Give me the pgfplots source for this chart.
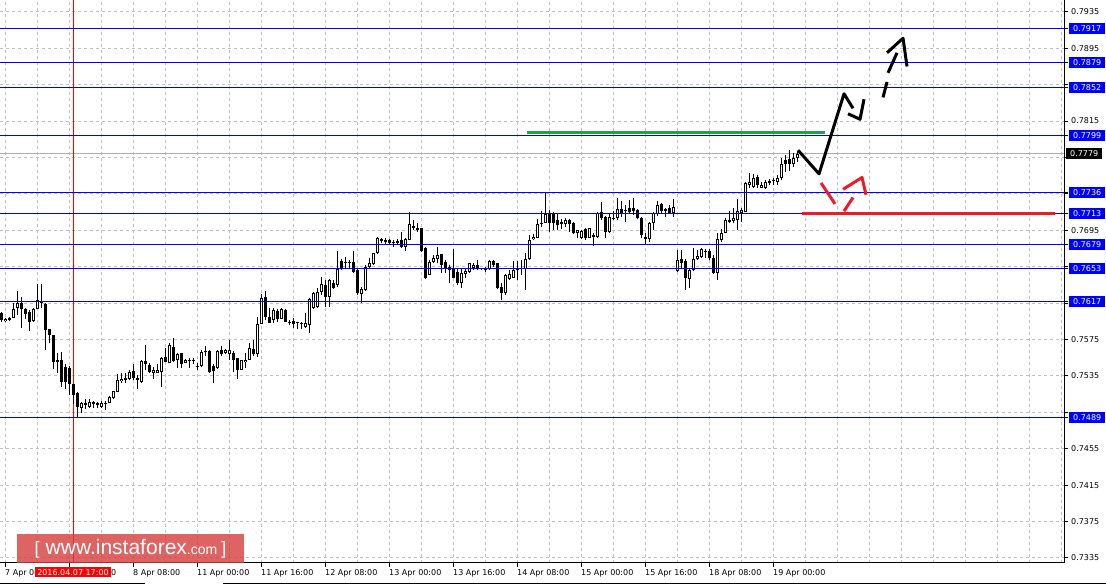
\documentclass[border=0pt]{standalone}
\usepackage{pgfplots}
\pgfplotsset{compat=1.18}
\usepackage{pgfplotstable}
\usepackage{fontspec}
\setmainfont{DejaVu Sans}
\newfontfamily\wmfont{Liberation Sans}
\definecolor{gridgray}{RGB}{192,192,192}
\definecolor{lvlblue}{RGB}{0,0,255}
\definecolor{mtred}{RGB}{237,28,36}
\definecolor{mtgreen}{RGB}{34,160,80}
\definecolor{wmred}{RGB}{214,60,60}
\definecolor{curgray}{RGB}{176,176,176}

% H1 candles: index, open, high, low, close
\pgfplotstableread{
x o h l c
0 0.7604 0.7605 0.7594 0.7596
1 0.7595 0.7599 0.7594 0.7598
2 0.7597 0.7600 0.7595 0.7599
3 0.7599 0.7615 0.7599 0.7609
4 0.7610 0.7628 0.7602 0.7615
5 0.7615 0.7622 0.7588 0.7608
6 0.7608 0.7610 0.7598 0.7603
7 0.7605 0.7607 0.7584 0.7594
8 0.7595 0.7610 0.7594 0.7609
9 0.7609 0.7636 0.7609 0.7618
10 0.7615 0.7636 0.7610 0.7617
11 0.7614 0.7615 0.7563 0.7585
12 0.7587 0.7587 0.7571 0.7580
13 0.7580 0.7580 0.7543 0.7550
14 0.7553 0.7560 0.7538 0.7550
15 0.7552 0.7561 0.7523 0.7528
16 0.7545 0.7548 0.7521 0.7528
17 0.7544 0.7546 0.7514 0.7526
18 0.7526 0.7526 0.7504 0.7514
19 0.7516 0.7517 0.7489 0.7501
20 0.7500 0.7506 0.7494 0.7505
21 0.7503 0.7510 0.7499 0.7505
22 0.7501 0.7510 0.7500 0.7506
23 0.7506 0.7508 0.7500 0.7504
24 0.7503 0.7506 0.7500 0.7505
25 0.7501 0.7508 0.7500 0.7505
26 0.7505 0.7508 0.7498 0.7504
27 0.7505 0.7513 0.7505 0.7512
28 0.7511 0.7518 0.7510 0.7518
29 0.7517 0.7537 0.7517 0.7530
30 0.7529 0.7538 0.7527 0.7532
31 0.7531 0.7538 0.7527 0.7533
32 0.7532 0.7541 0.7530 0.7539
33 0.7540 0.7548 0.7530 0.7533
34 0.7533 0.7536 0.7521 0.7531
35 0.7528 0.7552 0.7527 0.7551
36 0.7551 0.7569 0.7541 0.7548
37 0.7547 0.7549 0.7538 0.7539
38 0.7538 0.7545 0.7532 0.7542
39 0.7538 0.7548 0.7538 0.7541
40 0.7539 0.7556 0.7523 0.7555
41 0.7556 0.7566 0.7550 0.7550
42 0.7549 0.7571 0.7549 0.7569
43 0.7567 0.7577 0.7550 0.7551
44 0.7552 0.7560 0.7544 0.7559
45 0.7560 0.7560 0.7544 0.7548
46 0.7549 0.7554 0.7549 0.7553
47 0.7551 0.7555 0.7544 0.7553
48 0.7552 0.7555 0.7548 0.7551
49 0.7545 0.7549 0.7541 0.7546
50 0.7546 0.7563 0.7545 0.7561
51 0.7561 0.7568 0.7557 0.7562
52 0.7562 0.7563 0.7538 0.7539
53 0.7546 0.7548 0.7527 0.7540
54 0.7544 0.7563 0.7543 0.7562
55 0.7563 0.7568 0.7557 0.7559
56 0.7560 0.7565 0.7559 0.7563
57 0.7559 0.7575 0.7552 0.7564
58 0.7560 0.7562 0.7539 0.7553
59 0.7555 0.7555 0.7532 0.7542
60 0.7542 0.7553 0.7541 0.7552
61 0.7550 0.7560 0.7544 0.7553
62 0.7553 0.7571 0.7552 0.7566
63 0.7565 0.7575 0.7557 0.7559
64 0.7559 0.7600 0.7556 0.7592
65 0.7592 0.7625 0.7592 0.7621
66 0.7622 0.7628 0.7596 0.7600
67 0.7600 0.7610 0.7593 0.7593
68 0.7596 0.7610 0.7593 0.7607
69 0.7606 0.7609 0.7594 0.7598
70 0.7598 0.7610 0.7598 0.7609
71 0.7607 0.7608 0.7594 0.7594
72 0.7594 0.7596 0.7591 0.7593
73 0.7595 0.7599 0.7588 0.7592
74 0.7593 0.7594 0.7587 0.7594
75 0.7592 0.7594 0.7587 0.7593
76 0.7589 0.7604 0.7588 0.7593
77 0.7591 0.7621 0.7582 0.7620
78 0.7610 0.7627 0.7609 0.7626
79 0.7611 0.7632 0.7610 0.7627
80 0.7627 0.7644 0.7624 0.7636
81 0.7635 0.7640 0.7611 0.7622
82 0.7622 0.7641 0.7611 0.7640
83 0.7637 0.7640 0.7631 0.7632
84 0.7635 0.7672 0.7633 0.7652
85 0.7661 0.7663 0.7651 0.7652
86 0.7659 0.7666 0.7652 0.7660
87 0.7659 0.7662 0.7652 0.7660
88 0.7660 0.7672 0.7648 0.7649
89 0.7651 0.7652 0.7624 0.7626
90 0.7625 0.7633 0.7615 0.7630
91 0.7629 0.7657 0.7628 0.7655
92 0.7655 0.7665 0.7654 0.7659
93 0.7658 0.7670 0.7657 0.7670
94 0.7670 0.7688 0.7669 0.7686
95 0.7685 0.7686 0.7681 0.7683
96 0.7682 0.7686 0.7680 0.7684
97 0.7684 0.7685 0.7680 0.7681
98 0.7681 0.7684 0.7677 0.7682
99 0.7681 0.7685 0.7680 0.7683
100 0.7684 0.7693 0.7676 0.7677
101 0.7677 0.7686 0.7672 0.7685
102 0.7684 0.7715 0.7684 0.7702
103 0.7700 0.7706 0.7695 0.7697
104 0.7695 0.7703 0.7693 0.7697
105 0.7697 0.7698 0.7671 0.7672
106 0.7676 0.7677 0.7642 0.7643
107 0.7646 0.7662 0.7646 0.7660
108 0.7660 0.7668 0.7659 0.7665
109 0.7664 0.7677 0.7659 0.7668
110 0.7669 0.7669 0.7648 0.7657
111 0.7660 0.7662 0.7648 0.7654
112 0.7655 0.7657 0.7637 0.7651
113 0.7654 0.7674 0.7643 0.7643
114 0.7649 0.7653 0.7635 0.7637
115 0.7637 0.7653 0.7632 0.7648
116 0.7647 0.7654 0.7643 0.7650
117 0.7649 0.7659 0.7648 0.7659
118 0.7654 0.7659 0.7651 0.7657
119 0.7657 0.7662 0.7651 0.7652
120 0.7652 0.7654 0.7651 0.7653
121 0.7653 0.7655 0.7649 0.7651
122 0.7652 0.7662 0.7651 0.7661
123 0.7661 0.7662 0.7655 0.7657
124 0.7659 0.7659 0.7631 0.7632
125 0.7633 0.7637 0.7618 0.7626
126 0.7626 0.7647 0.7624 0.7646
127 0.7642 0.7651 0.7640 0.7647
128 0.7643 0.7661 0.7643 0.7651
129 0.7651 0.7661 0.7640 0.7653
130 0.7653 0.7662 0.7646 0.7652
131 0.7653 0.7670 0.7629 0.7663
132 0.7664 0.7690 0.7662 0.7684
133 0.7685 0.7691 0.7684 0.7688
134 0.7687 0.7707 0.7686 0.7702
135 0.7703 0.7716 0.7699 0.7702
136 0.7703 0.7736 0.7703 0.7713
137 0.7714 0.7717 0.7693 0.7703
138 0.7713 0.7715 0.7695 0.7703
139 0.7706 0.7713 0.7695 0.7701
140 0.7702 0.7707 0.7696 0.7704
141 0.7702 0.7709 0.7699 0.7706
142 0.7706 0.7707 0.7693 0.7702
143 0.7703 0.7704 0.7691 0.7692
144 0.7692 0.7695 0.7687 0.7695
145 0.7687 0.7695 0.7685 0.7694
146 0.7696 0.7697 0.7684 0.7687
147 0.7687 0.7698 0.7687 0.7697
148 0.7688 0.7692 0.7678 0.7690
149 0.7688 0.7715 0.7687 0.7714
150 0.7715 0.7726 0.7706 0.7709
151 0.7710 0.7711 0.7687 0.7693
152 0.7693 0.7714 0.7692 0.7710
153 0.7707 0.7716 0.7706 0.7709
154 0.7709 0.7731 0.7706 0.7718
155 0.7718 0.7727 0.7710 0.7714
156 0.7716 0.7723 0.7704 0.7717
157 0.7719 0.7728 0.7713 0.7715
158 0.7720 0.7731 0.7712 0.7716
159 0.7717 0.7718 0.7707 0.7709
160 0.7709 0.7710 0.7687 0.7690
161 0.7688 0.7692 0.7680 0.7685
162 0.7685 0.7704 0.7682 0.7703
163 0.7703 0.7715 0.7695 0.7714
164 0.7713 0.7727 0.7711 0.7723
165 0.7724 0.7725 0.7714 0.7716
166 0.7716 0.7719 0.7710 0.7718
167 0.7719 0.7723 0.7714 0.7714
168 0.7714 0.7729 0.7710 0.7721
169 0.7650 0.7673 0.7649 0.7662
170 0.7663 0.7673 0.7653 0.7659
171 0.7661 0.7663 0.7629 0.7643
172 0.7642 0.7654 0.7632 0.7651
173 0.7651 0.7675 0.7650 0.7663
174 0.7663 0.7673 0.7662 0.7667
175 0.7666 0.7675 0.7665 0.7674
176 0.7671 0.7674 0.7665 0.7672
177 0.7672 0.7674 0.7662 0.7665
178 0.7665 0.7668 0.7647 0.7648
179 0.7648 0.7692 0.7640 0.7685
180 0.7684 0.7696 0.7682 0.7692
181 0.7692 0.7709 0.7692 0.7706
182 0.7704 0.7716 0.7703 0.7706
183 0.7705 0.7719 0.7703 0.7709
184 0.7706 0.7729 0.7695 0.7716
185 0.7714 0.7720 0.7704 0.7717
186 0.7715 0.7748 0.7715 0.7747
187 0.7745 0.7758 0.7742 0.7748
188 0.7743 0.7757 0.7742 0.7752
189 0.7753 0.7756 0.7741 0.7745
190 0.7742 0.7748 0.7741 0.7745
191 0.7742 0.7750 0.7740 0.7748
192 0.7747 0.7751 0.7745 0.7749
193 0.7750 0.7752 0.7745 0.7749
194 0.7748 0.7756 0.7745 0.7752
195 0.7752 0.7774 0.7750 0.7768
196 0.7772 0.7778 0.7759 0.7768
197 0.7773 0.7783 0.7760 0.7768
198 0.7768 0.7780 0.7765 0.7774
199 0.7774 0.7781 0.7770 0.7779
}\candles

\begin{document}
\begin{tikzpicture}
\path[use as bounding box] (0,0) rectangle (1106pt,-585pt);
\begin{axis}[
  at={(0pt,0pt)}, anchor=north west,
  scale only axis, width=1064pt, height=563pt,
  xmin=-0.25, xmax=265.75,
  ymin=0.73295, ymax=0.7948,
  clip=false,
  axis x line*=bottom, axis y line*=right,
  axis line style={black, line width=1pt},
  tick align=outside, major tick length=4pt, minor tick length=0pt,
  tick style={black, line width=1pt},
  xtick={1,17,...,193},
  xticklabels={7 Apr 00:00,7 Apr 16:00,8 Apr 08:00,11 Apr 00:00,11 Apr 16:00,12 Apr 08:00,13 Apr 00:00,13 Apr 16:00,14 Apr 08:00,15 Apr 00:00,15 Apr 16:00,18 Apr 08:00,19 Apr 00:00},
  minor xtick={9,25,41,57,73,89,105,121,137,153,169,185,201,209,217,225,233,241,249,257,265},
  ytick={0.7335,0.7375,0.7415,0.7455,0.7495,0.7535,0.7575,0.7615,0.7655,0.7695,0.7735,0.7775,0.7815,0.7855,0.7895,0.7935},
  yticklabels={0.7335,0.7375,0.7415,0.7455,,0.7535,0.7575,,,0.7695,,,0.7815,,0.7895,0.7935},
  grid=both,
  major grid style={gridgray, line width=1pt, dash pattern=on 3pt off 3pt},
  minor grid style={gridgray, line width=1pt, dash pattern=on 3pt off 3pt},
  tick label style={font=\fontsize{8}{9}\selectfont},
  xticklabel style={anchor=north west, inner sep=0pt, xshift=0pt, yshift=-2pt},
  yticklabel style={anchor=west, inner xsep=0pt, xshift=3pt},
  extra y ticks={0.7917,0.7879,0.7852,0.7799,0.7736,0.7713,0.7679,0.7653,0.7617,0.7489},
  extra y tick labels={0.7917,0.7879,0.7852,0.7799,0.7736,0.7713,0.7679,0.7653,0.7617,0.7489},
  extra y tick style={grid=none, yticklabel style={fill=lvlblue, text=white, inner xsep=4pt, inner ysep=2.5pt, text height=6pt, text depth=0pt, xshift=-2pt}},
]
% current price line
\addplot[curgray, line width=1pt] coordinates {(-0.25,0.7779) (265.75,0.7779)};
% crosshair
\addplot[red, line width=1pt] coordinates {(18,0.73295) (18,0.7948)};
% wicks
\addplot[black, line width=1pt, -, quiver={u=0, v=\thisrow{h}-\thisrow{l}}] table[x=x, y=l] {\candles};
% bodies
\addplot[black, line width=3pt, -, quiver={u=0, v={max(abs(\thisrow{c}-\thisrow{o}),0.00011)}}] table[x=x, y expr={min(\thisrow{o},\thisrow{c})}] {\candles};
% hollow inside of rising candles
\addplot[white, line width=1pt, -, quiver={u=0, v={max(\thisrow{c}-\thisrow{o}-0.00022,0)}},
  restrict expr to domain={\thisrow{c}-\thisrow{o}}{0.00025:1}] table[x=x, y expr={\thisrow{o}+0.00011}] {\candles};
% levels
\addplot[lvlblue, line width=1pt] coordinates {(-0.25,0.7917) (265.75,0.7917)};
\addplot[lvlblue, line width=1pt] coordinates {(-0.25,0.7879) (265.75,0.7879)};
\addplot[lvlblue, line width=1pt] coordinates {(-0.25,0.7852) (265.75,0.7852)};
\addplot[lvlblue, line width=1pt] coordinates {(-0.25,0.7799) (265.75,0.7799)};
\addplot[lvlblue, line width=1pt] coordinates {(-0.25,0.7736) (265.75,0.7736)};
\addplot[lvlblue, line width=1pt] coordinates {(-0.25,0.7713) (265.75,0.7713)};
\addplot[lvlblue, line width=1pt] coordinates {(-0.25,0.7679) (265.75,0.7679)};
\addplot[lvlblue, line width=1pt] coordinates {(-0.25,0.7653) (265.75,0.7653)};
\addplot[lvlblue, line width=1pt] coordinates {(-0.25,0.7617) (265.75,0.7617)};
\addplot[lvlblue, line width=1pt] coordinates {(-0.25,0.7489) (265.75,0.7489)};
% green resistance and red support
\addplot[mtgreen, line width=3pt] coordinates {(131.5,0.7802) (206,0.7802)};
\addplot[mtred, line width=3pt] coordinates {(200.25,0.7713) (263.5,0.7713)};
% expected path (black)
\addplot[black, line width=3pt, line join=round] coordinates {(199.25,0.7783) (204.5,0.7757) (210.75,0.7845) (213,0.7829)};
\addplot[black, line width=3pt, line join=round] coordinates {(211.75,0.7823) (214.75,0.7817) (215.75,0.7839)};
\addplot[black, line width=3pt] coordinates {(220.5,0.7841) (221.5,0.7858)};
\addplot[black, line width=3pt] coordinates {(221.75,0.7868) (224,0.7890)};
\addplot[black, line width=3pt, line join=round] coordinates {(221.5,0.7890) (225.5,0.7906) (226.5,0.7875)};
% alternative path (red)
\addplot[mtred, line width=3pt] coordinates {(205,0.7747) (208.5,0.7724)};
\addplot[mtred, line width=3pt] coordinates {(210.75,0.7716) (213,0.7731)};
\addplot[mtred, line width=3pt, line join=round] coordinates {(210.5,0.7740) (215.25,0.7753) (216.25,0.7734)};
\coordinate (cur) at (axis cs:265.75,0.7779);
\coordinate (ch) at (axis cs:18,0.73295);
\end{axis}
\node[fill=black, text=white, anchor=west, inner xsep=4pt, inner ysep=2.5pt, text height=6pt, text depth=0pt,
  font=\fontsize{8}{9}\selectfont] at ([xshift=2pt]cur) {0.7779};
\node[fill=red, text=white, anchor=north, inner xsep=2pt, inner ysep=2pt, text height=6pt, text depth=0pt,
  font=\fontsize{8}{9}\selectfont] at ([yshift=-4pt]ch) {2016.04.07 17:00};
\node[fill=wmred, fill opacity=0.8, text opacity=1, text=white, minimum width=227pt, minimum height=29pt, inner sep=0pt,
  font=\wmfont\fontsize{21}{21}\selectfont] at (130.5pt,-548.5pt)
  {{\fontsize{18}{18}\selectfont[}\hspace{6pt}www.instaforex{\fontsize{14}{14}\selectfont.com}\hspace{4pt}{\fontsize{18}{18}\selectfont]}};
\draw[black, line width=1pt] (0,-583pt) -- (145pt,-583pt);
\draw[black, line width=1pt] (223pt,-583pt) -- (1106pt,-583pt);
\end{tikzpicture}
\end{document}
